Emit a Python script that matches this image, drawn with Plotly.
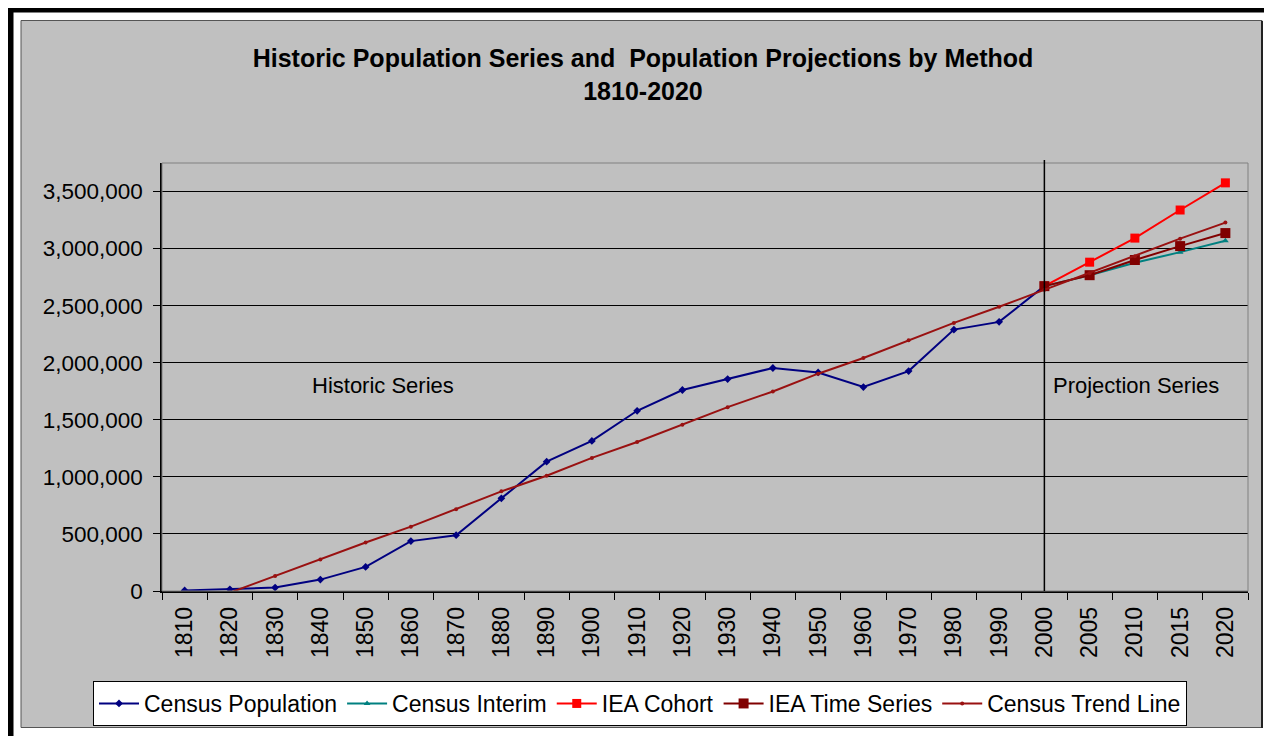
import plotly.graph_objects as go

# ---------------- data ----------------
CATEGORIES = ["1810", "1820", "1830", "1840", "1850", "1860", "1870", "1880", "1890",
              "1900", "1910", "1920", "1930", "1940", "1950", "1960", "1970", "1980",
              "1990", "2000", "2005", "2010", "2015", "2020"]

CENSUS_POPULATION = [5000, 15000, 30000, 100000, 211000, 437000, 489000, 812000, 1133000,
                     1315000, 1579000, 1761000, 1857000, 1954000, 1915000, 1787000, 1927000,
                     2290000, 2358000, 2671000, None, None, None, None]

PROJ_YEARS = ["2000", "2005", "2010", "2015", "2020"]
CENSUS_INTERIM = [2671000, 2767000, 2876000, 2969000, 3069000]
IEA_COHORT = [2671000, 2881000, 3092000, 3338000, 3576000]
IEA_TIME_SERIES = [2671000, 2767000, 2900000, 3022000, 3136000]

CENSUS_TREND = [None, -15000, 132000, 275000, 425000, 564000, 717000, 873000, 1010000,
                1166000, 1306000, 1456000, 1611000, 1748000, 1904000, 2042000, 2196000,
                2349000, 2490000, 2640000, 2785000, 2934000, 3087000, 3228000]

Y_TICKS = [0, 500000, 1000000, 1500000, 2000000, 2500000, 3000000, 3500000]

TITLE = "Historic Population Series and  Population Projections by Method<br>1810-2020"
FONT = "Arial, 'Liberation Sans', sans-serif"

# ---------------- layout geometry ----------------
# The page body has an 8px margin, so the figure is drawn at page (8, 8).
OFF = 8
FIG_W, FIG_H = 1272 - OFF, 736 - OFF
# plot area in page pixels
L, R, T, B = 162, 1248, 163, 591
W, H = R - L, B - T


def fx(px):
    """page x pixel -> paper x"""
    return (px - L) / W


def fy(py):
    """page y pixel -> paper y"""
    return (B - py) / H


fig = go.Figure()

fig.add_trace(go.Scatter(
    x=CATEGORIES, y=CENSUS_POPULATION, name="Census Population", mode="lines+markers",
    line=dict(color="#000080", width=2), marker=dict(symbol="diamond", size=6, color="#000080"),
    connectgaps=False))
fig.add_trace(go.Scatter(
    x=PROJ_YEARS, y=CENSUS_INTERIM, name="Census Interim", mode="lines+markers",
    line=dict(color="#008080", width=2), marker=dict(symbol="triangle-up", size=6, color="#008080")))
fig.add_trace(go.Scatter(
    x=PROJ_YEARS, y=IEA_COHORT, name="IEA Cohort", mode="lines+markers",
    line=dict(color="#FF0000", width=2), marker=dict(symbol="square", size=9, color="#FF0000")))
fig.add_trace(go.Scatter(
    x=PROJ_YEARS, y=IEA_TIME_SERIES, name="IEA Time Series", mode="lines+markers",
    line=dict(color="#800000", width=2), marker=dict(symbol="square", size=10, color="#800000")))
fig.add_trace(go.Scatter(
    x=CATEGORIES, y=CENSUS_TREND, name="Census Trend Line", mode="lines+markers",
    line=dict(color="#991111", width=2), marker=dict(symbol="circle", size=4, color="#991111")))

shapes = [
    # gray chart area
    dict(type="rect", xref="paper", yref="paper", x0=fx(21), x1=fx(1262), y0=fy(20.5), y1=fy(727.5),
         fillcolor="#C0C0C0", line=dict(color="#555555", width=1), layer="below"),
    # shadow on right side of chart area
    dict(type="line", xref="paper", yref="paper", x0=fx(1262), x1=fx(1262), y0=fy(21), y1=fy(728),
         line=dict(color="#222222", width=2), layer="below"),
    # thick black frame (top and left)
    dict(type="rect", xref="paper", yref="paper", x0=fx(8), x1=fx(1280), y0=fy(6), y1=fy(12.5),
         fillcolor="black", line=dict(width=0), layer="below"),
    dict(type="rect", xref="paper", yref="paper", x0=fx(6), x1=fx(13.5), y0=fy(6), y1=fy(745),
         fillcolor="black", line=dict(width=0), layer="below"),
    # plot area border (gray)
    dict(type="rect", xref="paper", yref="paper", x0=0, x1=1, y0=0, y1=1,
         line=dict(color="#808080", width=1), layer="above"),
    # divider between historic and projection series
    dict(type="line", xref="x", yref="paper", x0=CATEGORIES.index("2000"), x1=CATEGORIES.index("2000"),
         y0=0, y1=fy(160), line=dict(color="black", width=1.5), layer="above"),
]

annotations = [
    dict(text="Historic Series", xref="paper", yref="paper", x=fx(382.5), y=fy(385),
         xanchor="center", yanchor="middle", showarrow=False, font=dict(size=22, color="black", family=FONT)),
    dict(text="Projection Series", xref="paper", yref="paper", x=fx(1136), y=fy(385),
         xanchor="center", yanchor="middle", showarrow=False, font=dict(size=22, color="black", family=FONT)),
]

fig.update_layout(
    width=FIG_W, height=FIG_H,
    margin=dict(l=L - OFF, r=FIG_W - (R - OFF), t=T - OFF, b=FIG_H - (B - OFF), autoexpand=False),
    paper_bgcolor="white", plot_bgcolor="white",
    font=dict(family=FONT, color="black", size=22),
    title=dict(text="<b>" + TITLE.replace("<br>", "</b><br><b>") + "</b>",
               xref="container", yref="container", x=(643 - OFF) / FIG_W, xanchor="center",
               y=1 - 59 / FIG_H, yanchor="top", font=dict(size=25, color="black", family=FONT)),
    shapes=shapes, annotations=annotations,
    showlegend=True,
    legend=dict(orientation="h", xref="paper", yref="paper", x=fx(93), y=fy(681),
                xanchor="left", yanchor="top", bgcolor="white", bordercolor="black", borderwidth=1,
                font=dict(size=23, color="black", family=FONT), itemwidth=40, tracegroupgap=0),
    xaxis=dict(type="category", categoryorder="array", categoryarray=CATEGORIES,
               range=[-0.5, len(CATEGORIES) - 0.5], tickson="boundaries",
               ticks="outside", ticklen=7, tickcolor="black", tickwidth=1,
               tickangle=-90, showgrid=False, zeroline=False, ticklabelstandoff=5,
               showline=True, linecolor="black", linewidth=1.5,
               tickfont=dict(size=23, color="black", family=FONT)),
    yaxis=dict(range=[0, 3750000], tickvals=Y_TICKS, tickformat=",",
               ticks="outside", ticklen=7, tickcolor="black", tickwidth=1,
               showgrid=True, gridcolor="black", gridwidth=1, zeroline=False,
               showline=True, linecolor="black", linewidth=1.5, ticklabelstandoff=6,
               tickfont=dict(size=22.5, color="black", family=FONT)),
)

fig.write_html("out.html")
